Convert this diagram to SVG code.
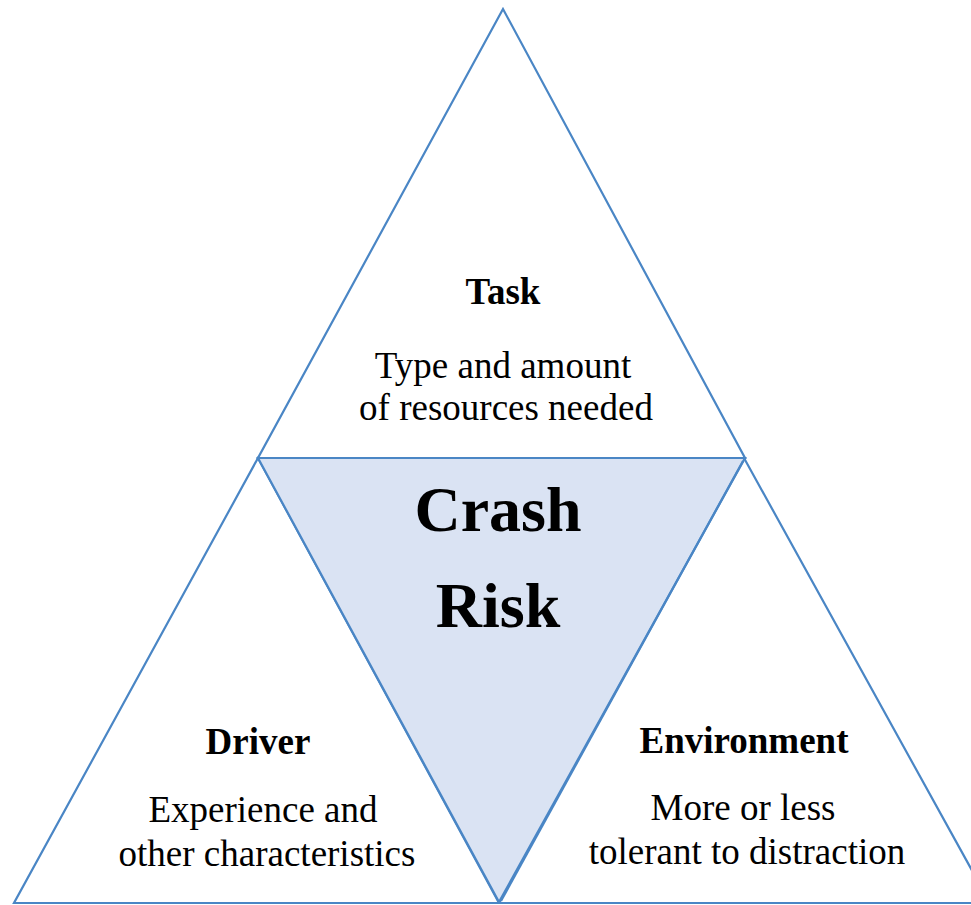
<svg xmlns="http://www.w3.org/2000/svg" width="971" height="905" viewBox="0 0 971 905">
<style>
.tri{fill:#ffffff;stroke:#4A86C5;stroke-width:2.2;stroke-linejoin:miter}
.center{fill:#DAE3F3;stroke:#4A86C5;stroke-width:2.2}
text{font-family:"Liberation Serif","Times New Roman",serif;fill:#000;text-anchor:middle}
.h{font-weight:bold;font-size:37px}
.b{font-size:37px}
.big{font-weight:bold;font-size:64px}
</style>
<rect width="971" height="905" fill="#ffffff"/>
<g id="task">
<polygon class="tri" points="503,9 258,458 745,458"/>
<text class="h" x="503" y="304">Task</text>
<text class="b" x="503" y="378">Type and amount</text>
<text class="b" x="506" y="420">of resources needed</text>
</g>
<g id="driver">
<polygon class="tri" points="258,458 14,903 499,903"/>
<text class="h" x="258" y="754">Driver</text>
<text class="b" x="263" y="822">Experience and</text>
<text class="b" x="267" y="866">other characteristics</text>
</g>
<g id="environment">
<polygon class="tri" points="744,458 499,903 990,903"/>
<text class="h" x="744" y="753">Environment</text>
<text class="b" x="743" y="820">More or less</text>
<text class="b" x="747" y="864">tolerant to distraction</text>
</g>
<g id="crash-risk">
<polygon class="center" points="258,458 745,458 499,902"/>
<line x1="743" y1="461" x2="501" y2="901" stroke="#4A86C5" stroke-width="2.2"/>
<text class="big" x="498" y="531">Crash</text>
<text class="big" x="498" y="627">Risk</text>
</g>
<g id="connectors"></g>
</svg>
